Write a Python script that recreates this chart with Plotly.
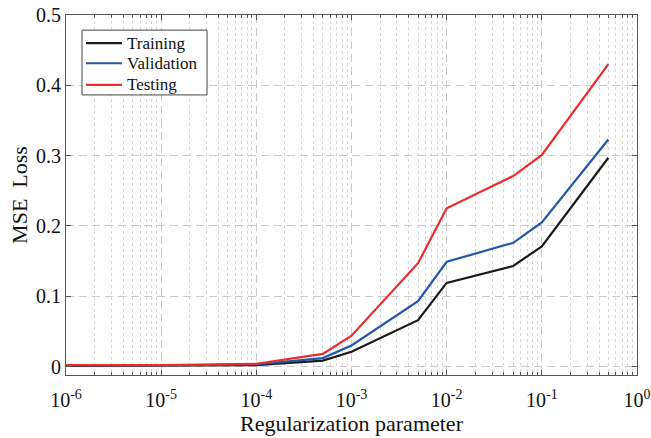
import plotly.graph_objects as go

# Regularization sweep and resulting MSE losses
reg_param = [1e-6, 1e-5, 1e-4, 5e-4, 1e-3, 5e-3, 1e-2, 5e-2, 1e-1, 5e-1]
train_loss = [0.001, 0.001, 0.002, 0.0085, 0.021, 0.066, 0.119, 0.143, 0.171, 0.297]
valid_loss = [0.0015, 0.0015, 0.003, 0.012, 0.030, 0.093, 0.149, 0.176, 0.205, 0.323]
test_loss = [0.002, 0.002, 0.004, 0.018, 0.044, 0.147, 0.225, 0.271, 0.301, 0.430]

series_names = ["Training", "Validation", "Testing"]
series_colors = ["#1a1a1a", "#2357a8", "#ee2b2b"]

x_tick_vals = [1e-6, 1e-5, 1e-4, 1e-3, 1e-2, 1e-1, 1e0]
x_tick_text = ["10<sup>-6</sup>", "10<sup>-5</sup>", "10<sup>-4</sup>", "10<sup>-3</sup>",
               "10<sup>-2</sup>", "10<sup>-1</sup>", "10<sup>0</sup>"]
x_minor_vals = [k * 10.0 ** e for e in range(-6, 0) for k in range(2, 10)]
y_tick_vals = [0, 0.1, 0.2, 0.3, 0.4, 0.5]
y_tick_text = ["0", "0.1", "0.2", "0.3", "0.4", "0.5"]

FONT = "Liberation Serif"

fig = go.Figure()
for name, vals, color in zip(series_names, [train_loss, valid_loss, test_loss], series_colors):
    fig.add_trace(go.Scatter(x=reg_param, y=vals, mode="lines", name=name,
                             line=dict(color=color, width=2.2), showlegend=False))

# Compact boxed legend in the upper-left corner of the axes
legend_box = dict(x0=0.028, x1=0.247, y0=0.778, y1=0.958)
legend_rows = [0.922, 0.866, 0.806]
fig.add_shape(type="rect", xref="paper", yref="paper", **legend_box,
              line=dict(color="#444", width=1), fillcolor="white", layer="above")
for name, color, yy in zip(series_names, series_colors, legend_rows):
    fig.add_shape(type="line", xref="paper", yref="paper", x0=0.035, x1=0.098,
                  y0=yy, y1=yy, line=dict(color=color, width=2.2), layer="above")
    fig.add_annotation(xref="paper", yref="paper", x=0.1035, y=yy, text=name,
                       showarrow=False, xanchor="left", yanchor="middle",
                       font=dict(family=FONT, size=17, color="#111"))

fig.update_layout(
    width=651, height=438,
    margin=dict(l=66, r=14, t=15, b=63),
    plot_bgcolor="white", paper_bgcolor="white",
    font=dict(family=FONT, color="#111", size=18),
)

fig.update_xaxes(
    type="log", range=[-6, 0], automargin=False,
    tickmode="array", tickvals=x_tick_vals, ticktext=x_tick_text,
    tickfont=dict(family=FONT, size=20, color="#111"),
    ticklabelstandoff=7,
    ticks="inside", ticklen=5, tickcolor="#555",
    showline=True, linecolor="#555", linewidth=1, mirror="allticks",
    showgrid=True, gridcolor="#c8c8c8", griddash="8px,5px", gridwidth=1,
    zeroline=False,
    minor=dict(tickmode="array", tickvals=x_minor_vals, ticks="inside", ticklen=3,
               tickcolor="#555", showgrid=True, gridcolor="#d6d6d6", griddash="dot",
               gridwidth=1),
    title=dict(text="Regularization parameter", font=dict(family=FONT, size=22), standoff=4),
)
fig.update_yaxes(
    range=[-0.012, 0.5], automargin=False,
    tickmode="array", tickvals=y_tick_vals, ticktext=y_tick_text,
    tickfont=dict(family=FONT, size=20, color="#111"),
    ticks="inside", ticklen=5, tickcolor="#555",
    showline=True, linecolor="#555", linewidth=1, mirror="allticks",
    showgrid=True, gridcolor="#c8c8c8", griddash="8px,5px", gridwidth=1,
    zeroline=False,
    title=dict(text="MSE\u00a0 Loss", font=dict(family=FONT, size=22), standoff=2),
)

fig.write_html("out.html")
